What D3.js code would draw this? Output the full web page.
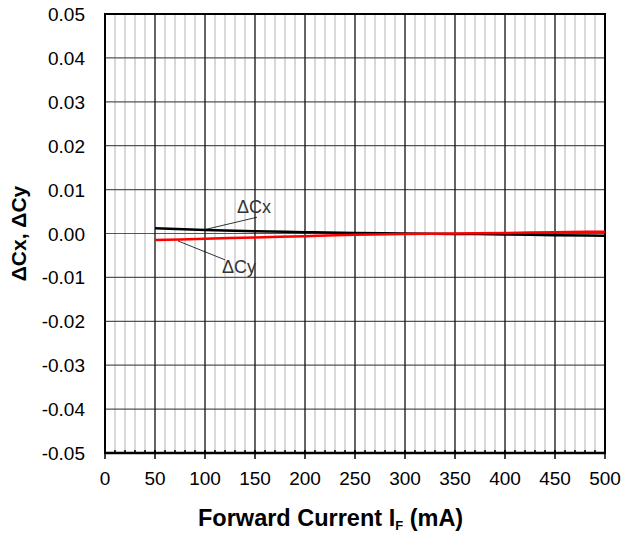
<!DOCTYPE html>
<html>
<head>
<meta charset="utf-8">
<script src="https://cdn.jsdelivr.net/npm/d3@7"></script>
<style>
  body { margin: 0; background: #fff; }
  text { font-family: "Liberation Sans", Arial, sans-serif; }
</style>
</head>
<body>
<svg id="chart" width="624" height="537"></svg>
<script>
// forward current (mA) and colour shift values
let current = [50, 100, 150, 200, 250, 300, 350, 400, 450, 500];
let dCx = [0.0012, 0.0008, 0.0005, 0.0003, 0.0001, 0.0, -0.0001, -0.0002, -0.0004, -0.0005];
let dCy = [-0.0015, -0.0012, -0.0009, -0.0006, -0.0003, -0.0001, 0.0, 0.0001, 0.0003, 0.0004];
let xTicks = d3.range(0, 501, 50);
let yTicks = [0.05, 0.04, 0.03, 0.02, 0.01, 0.00, -0.01, -0.02, -0.03, -0.04, -0.05];

let svg = d3.select('#chart');
let margin = {top: 14, left: 105, right: 19, bottom: 84};
let width = 624 - margin.left - margin.right;
let height = 537 - margin.top - margin.bottom;

let x = d3.scaleLinear().domain([0, 500]).range([0, width]);
let y = d3.scaleLinear().domain([-0.05, 0.05]).range([height, 0]);

let g = svg.append('g')
  .attr('transform', 'translate(' + margin.left + ',' + margin.top + ')');

// minor vertical grid
g.append('g').selectAll('line')
  .data(d3.range(10, 500, 10).filter(d => d % 50 !== 0))
  .enter().append('line')
  .attr('x1', d => x(d)).attr('x2', d => x(d))
  .attr('y1', 0).attr('y2', height)
  .attr('stroke', '#b4b4b4').attr('stroke-width', 1);

// horizontal grid
g.append('g').selectAll('line')
  .data(yTicks.slice(1, -1))
  .enter().append('line')
  .attr('x1', 0).attr('x2', width)
  .attr('y1', d => y(d)).attr('y2', d => y(d))
  .attr('stroke', '#555').attr('stroke-width', 1.2);

// major vertical grid
g.append('g').selectAll('line')
  .data(xTicks.slice(1, -1))
  .enter().append('line')
  .attr('x1', d => x(d)).attr('x2', d => x(d))
  .attr('y1', 0).attr('y2', height)
  .attr('stroke', '#111').attr('stroke-width', 1.3);

// frame
g.append('rect')
  .attr('x', 0).attr('y', 0).attr('width', width).attr('height', height)
  .attr('fill', 'none').attr('stroke', '#000').attr('stroke-width', 2);

// bottom axis: small inner ticks + major outer ticks
let xAxis = g.append('g').attr('transform', 'translate(0,' + height + ')');
xAxis.selectAll('line.minor')
  .data(d3.range(10, 500, 10))
  .enter().append('line')
  .attr('class', 'minor')
  .attr('x1', d => x(d)).attr('x2', d => x(d))
  .attr('y1', 0).attr('y2', -3)
  .attr('stroke', '#000').attr('stroke-width', 1.5);
xAxis.selectAll('line.major')
  .data(xTicks)
  .enter().append('line')
  .attr('class', 'major')
  .attr('x1', d => x(d)).attr('x2', d => x(d))
  .attr('y1', -3).attr('y2', 6)
  .attr('stroke', '#000').attr('stroke-width', 1.5);
xAxis.append('line')
  .attr('x1', 0).attr('x2', width)
  .attr('stroke', '#000').attr('stroke-width', 2.5);
xAxis.selectAll('text')
  .data(xTicks)
  .enter().append('text')
  .attr('x', d => x(d)).attr('y', 32)
  .attr('text-anchor', 'middle')
  .attr('font-size', 19)
  .text(d => d);

// y tick labels (plain hyphen for negatives)
g.append('g').selectAll('text')
  .data(yTicks)
  .enter().append('text')
  .attr('x', -20).attr('y', d => y(d) + 7)
  .attr('text-anchor', 'end')
  .attr('font-size', 19)
  .text(d => (d < 0 ? '-' : '') + Math.abs(d).toFixed(2));

// curves
let line = d3.line()
  .x((d, i) => x(current[i]))
  .y(d => y(d))
  .curve(d3.curveMonotoneX);

g.append('path')
  .datum(dCx)
  .attr('d', line)
  .attr('fill', 'none').attr('stroke', '#000').attr('stroke-width', 2.5);

g.append('path')
  .datum(dCy)
  .attr('d', line)
  .attr('fill', 'none').attr('stroke', '#f00').attr('stroke-width', 2.5);

// annotations
g.append('line')
  .attr('x1', x(100)).attr('y1', y(0.0009))
  .attr('x2', x(152)).attr('y2', y(0.0037))
  .attr('stroke', '#000').attr('stroke-width', 0.8);
g.append('text')
  .attr('x', x(132)).attr('y', y(0.0047))
  .attr('font-size', 18).attr('fill', '#333')
  .text('ΔCx');

g.append('line')
  .attr('x1', x(73)).attr('y1', y(-0.0017))
  .attr('x2', x(120)).attr('y2', y(-0.006))
  .attr('stroke', '#000').attr('stroke-width', 0.8);
g.append('text')
  .attr('x', x(117)).attr('y', y(-0.0089))
  .attr('font-size', 18).attr('fill', '#333')
  .text('ΔCy');

// axis titles
svg.append('text')
  .attr('transform', 'translate(26,' + (margin.top + y(0)) + ') rotate(-90)')
  .attr('text-anchor', 'middle')
  .attr('font-size', 21).attr('font-weight', 'bold')
  .text('ΔCx, ΔCy');

let xt = svg.append('text')
  .attr('x', 198).attr('y', 526)
  .attr('font-size', 23.5).attr('font-weight', 'bold');
xt.append('tspan').text('Forward Current I');
xt.append('tspan').attr('font-size', 13).attr('dy', 4).text('F');
xt.append('tspan').attr('dy', -4).text(' (mA)');
</script>
</body>
</html>
